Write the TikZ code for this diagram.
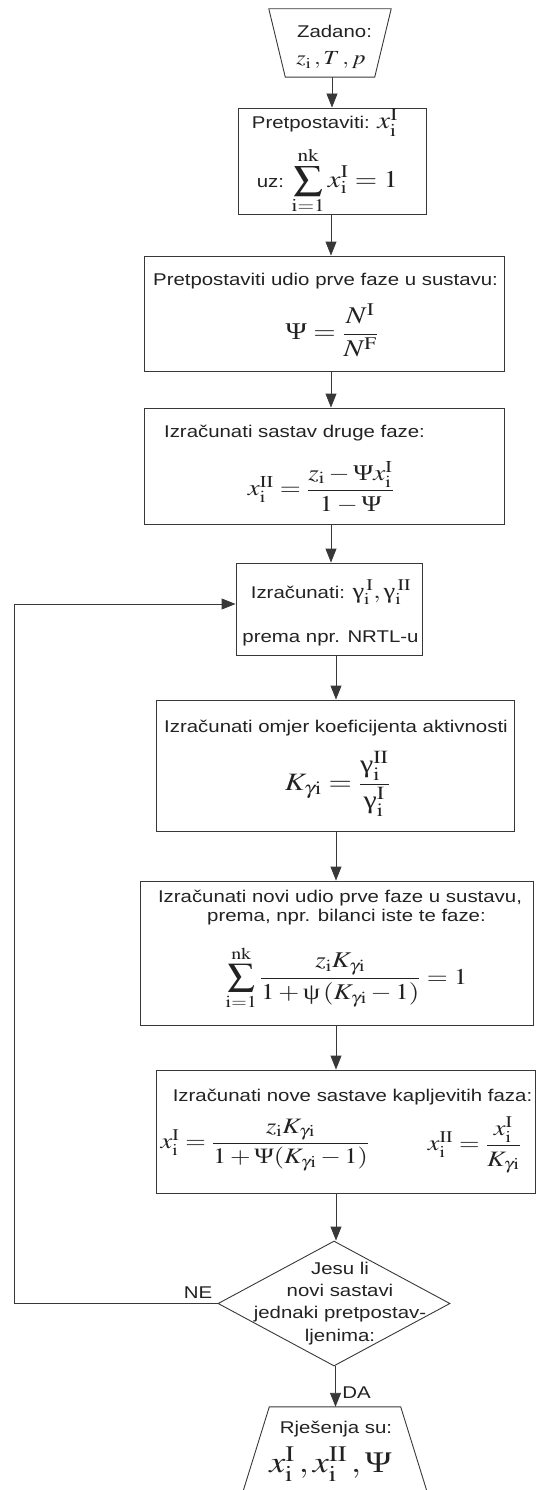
\documentclass[tikz,border=0pt]{standalone}
\usepackage{amsmath}
\usepackage{mathptmx}
\usepackage[no-math]{fontspec}
\newfontfamily\arial{Liberation Sans}
\newfontfamily\tms{Liberation Serif}
\usetikzlibrary{arrows.meta,shapes.geometric}
\definecolor{ink}{HTML}{222222}
\definecolor{edge}{HTML}{383838}
% horizontally widened type, as in the flowchart
\newcommand\sx[1]{\scalebox{1.2}[1]{#1}}
\newcommand\fsz[1]{\fontsize{#1}{#1}\selectfont}
\newcommand\subi{\mathrm{i}}
\newcommand\phI{\mathrm{I}}
\newcommand\phII{\mathrm{II}}
% upright Greek letters set in the serif text face
\newcommand\ug{\text{\tms γ}}
\newcommand\ups{\text{\tms ψ}}
\newcommand\Pst{\text{\tms Ψ}}
\begin{document}
\begin{tikzpicture}[x=1pt,y=-1pt,
  box/.style={draw=edge, line width=0.9pt, rectangle, inner sep=0pt},
  ghost/.style={rectangle, inner sep=0pt},
  lbl/.style={inner sep=0pt, text=ink, anchor=base, font=\arial\fsz{17}},
  frm/.style={inner sep=0pt, text=ink},
  link/.style={draw=edge, line width=0.9pt},
  arr/.style={link, -{Triangle[length=14pt,width=11pt]}}]
\useasboundingbox (0,0) rectangle (536,1490);
\clip (0,0) rectangle (536,1490);

% ---- shapes
\node[ghost, minimum width=122pt, minimum height=68pt] (in) at (330,43) {};
\draw[link] (in.north west) -- (in.north east) -- ([xshift=-16.5pt]in.south east)
  -- ([xshift=16.5pt]in.south west) -- cycle;
\node[box, minimum width=188pt, minimum height=106pt] (b2) at (332,161) {};
\node[box, minimum width=360pt, minimum height=115pt] (b3) at (324,313.5) {};
\node[box, minimum width=360pt, minimum height=116pt] (b4) at (324,466) {};
\node[box, minimum width=186pt, minimum height=92pt] (b5) at (329,609) {};
\node[box, minimum width=358pt, minimum height=131pt] (b6) at (335,765.5) {};
\node[box, minimum width=393pt, minimum height=144pt] (b7) at (336.5,953) {};
\node[box, minimum width=379pt, minimum height=123pt] (b8) at (345.5,1131.5) {};
\node[diamond, draw=edge, line width=0.9pt, inner sep=0pt,
  minimum width=232pt, minimum height=125pt] (dia) at (334,1303.5) {};
\node[ghost, minimum width=189pt, minimum height=93pt] (out) at (335,1453.5) {};
\draw[link] ([xshift=29pt]out.north west) -- ([xshift=-29pt]out.north east)
  -- (out.south east) -- (out.south west) -- cycle;

% ---- connectors
\coordinate (s1) at (332,0);
\coordinate (s2) at (331,0);
\coordinate (s3) at (336,0);
\coordinate (s4) at (335.5,0);
\coordinate (lp) at (14,604);
\draw[arr] (in.south -| s1) -- (b2.north -| s1);
\draw[arr] (b2.south -| s2) -- (b3.north -| s2);
\draw[arr] (b3.south -| s2) -- (b4.north -| s2);
\draw[arr] (b4.south -| s2) -- (b5.north -| s2);
\draw[arr] (b5.south -| s3) -- (b6.north -| s3);
\draw[arr] (b6.south -| s3) -- (b7.north -| s3);
\draw[arr] (b7.south -| s3) -- (b8.north -| s3);
\draw[arr] (b8.south -| s3) -- (dia.north -| s3);
\draw[arr] (dia.south -| s4) -- (out.north -| s4);
\draw[arr] (dia.west) -| (lp) -- (lp -| b5.west);

% ---- texts
\node[lbl] (t0) at (334.5,38) {\sx{Zadano:}};
\node[frm, anchor=base, font=\fsz{20}] (t1) at (331,65) {\sx{$z_{\subi}\,,T\,,p$}};

\node[lbl] (t2) at (325,129) {\sx{Pretpostaviti: {\fsz{24}$x_{\subi}^{\phI}$}}};
\node[lbl] (t3) at (327.5,187) {\sx{uz: {\fsz{24}$\displaystyle\sum_{\mathrm{i=1}}^{\mathrm{nk}} x_{\subi}^{\phI} = 1$}}};

\node[lbl] (t4) at (325.5,285) {\sx{Pretpostaviti udio prve faze u sustavu:}};
\node[frm, font=\fsz{24}] (f4) at (332,330) {\sx{$\Pst = \dfrac{N^{\phI}}{N^{\mathrm{F}}}$}};

\node[lbl] (t5) at (294.5,437.5) {\sx{Izračunati sastav druge faze:}};
\node[frm, font=\fsz{22.5}] (f5) at (321,487) {\sx{$x_{\subi}^{\phII} = \dfrac{z_{\subi} - \Pst x_{\subi}^{\phI}}{1-\Pst}$}};

\node[lbl] (t6) at (331,598) {\sx{Izračunati: {\fsz{22}$\ug_{\subi}^{\,\phI}, \ug_{\subi}^{\,\phII}$}}};
\node[lbl] (t7) at (330.5,642) {\sx{prema npr. NRTL-u}};

\node[lbl] (t8) at (336,732) {\sx{Izračunati omjer koeficijenta aktivnosti}};
\node[frm, font=\fsz{25}] (f8) at (337.5,784) {\sx{$K_{\gamma\subi} = \dfrac{\ug_{\subi}^{\phII}}{\ug_{\subi}^{\phI}}$}};

\node[lbl] (t9) at (340,902) {\sx{Izračunati novi udio prve faze u sustavu,}};
\node[lbl] (t10) at (346.5,921) {\sx{prema, npr. bilanci iste te faze:}};
\node[frm, font=\fsz{22.5}] (f10) at (346.5,978) {\sx{$\displaystyle\sum_{\mathrm{i=1}}^{\mathrm{nk}} \frac{z_{\subi} K_{\gamma\subi}}{1+\ups\,(K_{\gamma\subi}-1)} = 1$}};

\node[lbl] (t11) at (352.5,1101) {\sx{Izračunati nove sastave kapljevitih faza:}};
\node[frm, font=\fsz{22}] (f11) at (265,1145) {\sx{$x_{\subi}^{\phI} = \dfrac{z_{\subi}K_{\gamma\subi}}{1+\Pst(K_{\gamma\subi}-1)}$}};
\node[frm, font=\fsz{22}] (f12) at (474.5,1145) {\sx{$x_{\subi}^{\phII} = \dfrac{x_{\subi}^{\phI}}{K_{\gamma\subi}}$}};

\node[lbl] (q1) at (340,1274) {\sx{Jesu li}};
\node[lbl] (q2) at (340,1296) {\sx{novi sastavi}};
\node[lbl] (q3) at (340,1318) {\sx{jednaki pretpostav-}};
\node[lbl] (q4) at (340,1341) {\sx{ljenima:}};

\node[lbl] (ne) at (198,1298) {\sx{NE}};
\node[lbl] (da) at (356.5,1398) {\sx{DA}};

\node[lbl] (t12) at (336,1433) {\sx{Rješenja su:}};
\node[frm, anchor=base, font=\fsz{30}] (f13) at (330.5,1472) {\sx{$x_{\subi}^{\phI}\,, x_{\subi}^{\phII}\,, \Pst$}};
\end{tikzpicture}
\end{document}
